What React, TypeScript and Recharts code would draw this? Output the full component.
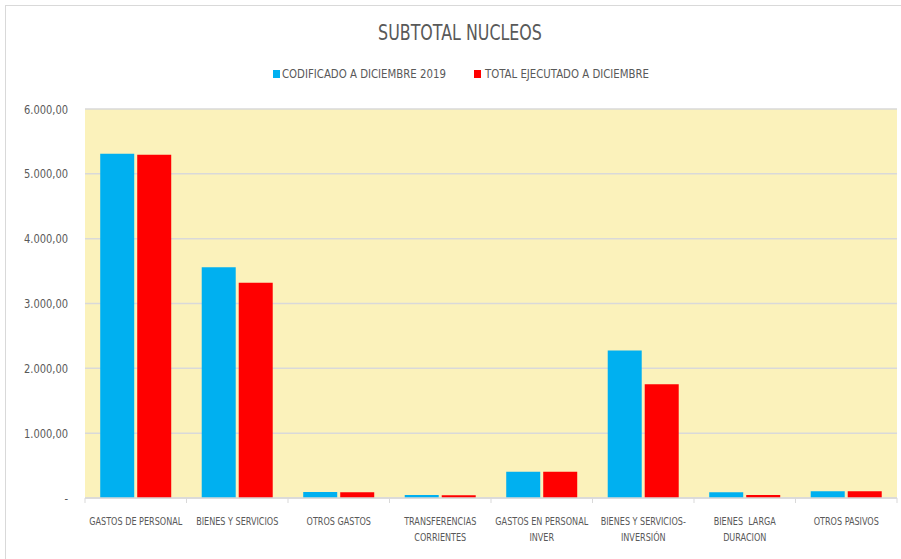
import React from "react";
import { BarChart, Bar, XAxis, YAxis, CartesianGrid } from "recharts";

const CATEGORIES = [
  "GASTOS DE PERSONAL",
  "BIENES Y SERVICIOS",
  "OTROS GASTOS",
  "TRANSFERENCIAS\nCORRIENTES",
  "GASTOS EN PERSONAL\nINVER",
  "BIENES Y SERVICIOS-\nINVERSIÓN",
  "BIENES  LARGA\nDURACION",
  "OTROS PASIVOS",
];
const CODIFICADO = [5310, 3560, 93, 46, 405, 2275, 90, 105];
const EJECUTADO = [5295, 3320, 90, 44, 405, 1755, 45, 105];
const Y_TICKS = [0, 1000, 2000, 3000, 4000, 5000, 6000];

const SERIES = [
  { key: "codificado", name: "CODIFICADO A DICIEMBRE 2019", color: "#00B0F0" },
  { key: "ejecutado", name: "TOTAL EJECUTADO A DICIEMBRE", color: "#FF0000" },
];

const data = CATEGORIES.map((name, i) => ({
  name,
  codificado: CODIFICADO[i],
  ejecutado: EJECUTADO[i],
}));

// no Calibri here, so squeeze DejaVu Sans Condensed a bit
const FONT = '"DejaVu Sans Condensed", "Liberation Sans", sans-serif';
const TEXT = "#595959";
const W = 901;
const H = 559;
const X_HEIGHT = 30;
const MARGIN = { top: 109, right: 4, bottom: 61 - X_HEIGHT, left: 0 };
const Y_WIDTH = 85;
const BAND = (W - MARGIN.left - MARGIN.right - Y_WIDTH) / CATEGORIES.length;

const fmt = (v: number) => {
  if (v === 0) return "-";
  const s = Math.round(v).toString().replace(/\B(?=(\d{3})+(?!\d))/g, ".");
  return s + ",00";
};

const XTick = (props: any) => {
  const { x, y, payload, index } = props;
  const lines = String(payload.value).split("\n");
  return (
    <g>
      <line x1={x - BAND / 2} x2={x - BAND / 2} y1={y} y2={y + 5} stroke="#D9D9D9" />
      {index === CATEGORIES.length - 1 && (
        <line x1={x + BAND / 2} x2={x + BAND / 2} y1={y} y2={y + 5} stroke="#D9D9D9" />
      )}
      <g transform={`translate(${x},${y + 27}) scale(0.9,1)`}>
        <text x={0} y={0} textAnchor="middle" fill={TEXT} fontSize={10} fontFamily={FONT}>
          {lines.map((l, i) => (
            <tspan key={i} x={0} dy={i === 0 ? 0 : 16} style={{ whiteSpace: "pre" }}>
              {l}
            </tspan>
          ))}
        </text>
      </g>
    </g>
  );
};

const YTick = (props: any) => {
  const { x, y, payload } = props;
  return (
    <g transform={`translate(${x},${y}) scale(0.88,1)`}>
      <text x={0} y={0} dy={4.5} textAnchor="end" fill={TEXT} fontSize={12.5} fontFamily={FONT}>
        {fmt(payload.value)}
      </text>
    </g>
  );
};

const LEGEND_POS = [
  { box: 273, text: 282 },
  { box: 474, text: 485 },
];

export default function App() {
  return (
    <div style={{ position: "absolute", left: 0, top: 0, width: W, height: H, background: "#fff", overflow: "hidden" }}>
      <div
        style={{
          position: "absolute",
          left: 5,
          top: 5,
          width: W,
          height: H,
          borderLeft: "1.5px solid #D9D9D9",
          borderTop: "1.5px solid #D9D9D9",
        }}
      />
      <div
        style={{
          position: "absolute",
          top: 21,
          left: 0,
          width: 920,
          textAlign: "center",
          fontFamily: FONT,
          fontSize: 21,
          color: TEXT,
          transform: "scaleX(0.84)",
        }}
      >
        SUBTOTAL NUCLEOS
      </div>
      {SERIES.map((s, i) => (
        <React.Fragment key={s.key}>
          <span
            style={{
              position: "absolute",
              left: LEGEND_POS[i].box,
              top: 70,
              width: 7,
              height: 8,
              background: s.color,
            }}
          />
          <span
            style={{
              position: "absolute",
              left: LEGEND_POS[i].text,
              top: 66,
              fontFamily: FONT,
              fontSize: 13,
              color: TEXT,
              whiteSpace: "nowrap",
              transform: "scaleX(0.87)",
              transformOrigin: "left center",
            }}
          >
            {s.name}
          </span>
        </React.Fragment>
      ))}
      <BarChart
        width={W}
        height={H}
        data={data}
        margin={MARGIN}
        barCategoryGap="15%"
        barGap={3}
        style={{ position: "absolute", left: 0, top: 0 }}
      >
        <CartesianGrid vertical={false} stroke="#D9D9D9" strokeWidth={1.5} fill="#FBF2BB" fillOpacity={1} />
        <XAxis
          dataKey="name"
          interval={0}
          height={X_HEIGHT}
          axisLine={{ stroke: "#D9D9D9", strokeWidth: 1.5 }}
          tickLine={false}
          tickSize={0}
          tickMargin={0}
          tick={<XTick />}
        />
        <YAxis
          width={Y_WIDTH}
          domain={[0, 6000]}
          ticks={Y_TICKS}
          axisLine={false}
          tickLine={false}
          tickSize={0}
          tickMargin={17}
          tick={<YTick />}
        />
        {SERIES.map((s) => (
          <Bar key={s.key} dataKey={s.key} name={s.name} fill={s.color} isAnimationActive={false} />
        ))}
      </BarChart>
    </div>
  );
}
